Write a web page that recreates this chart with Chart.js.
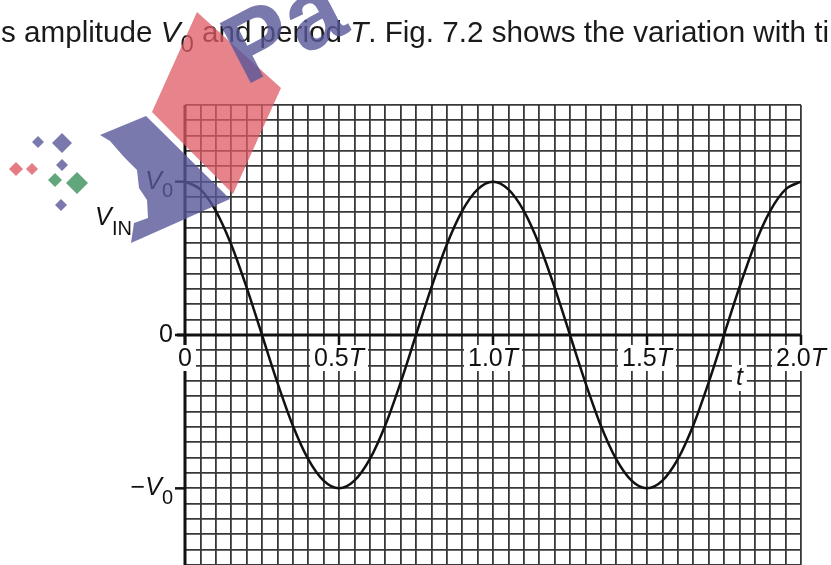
<!DOCTYPE html>
<html>
<head>
<meta charset="utf-8">
<script src="https://cdn.jsdelivr.net/npm/chart.js@4"></script>
<style>
  html, body { margin: 0; padding: 0; background: #fff; }
  #wrap { width: 831px; height: 565px; }
</style>
</head>
<body>
<div id="wrap"><canvas id="vinChart" width="831" height="565"></canvas></div>
<script>
// time in periods, one point per grid column
const timeT = [
  0, 0.05, 0.1, 0.15, 0.2, 0.25, 0.3, 0.35, 0.4, 0.45,
  0.5, 0.55, 0.6, 0.65, 0.7, 0.75, 0.8, 0.85, 0.9, 0.95,
  1.0, 1.05, 1.1, 1.15, 1.2, 1.25, 1.3, 1.35, 1.4, 1.45,
  1.5, 1.55, 1.6, 1.65, 1.7, 1.75, 1.8, 1.85, 1.9, 1.95, 2.0
];
// V_IN in units of V0
const vin = [
  1, 0.95, 0.81, 0.59, 0.31, 0, -0.31, -0.59, -0.81, -0.95,
  -1, -0.95, -0.81, -0.59, -0.31, 0, 0.31, 0.59, 0.81, 0.95,
  1, 0.95, 0.81, 0.59, 0.31, 0, -0.31, -0.59, -0.81, -0.95,
  -1, -0.95, -0.81, -0.59, -0.31, 0, 0.31, 0.59, 0.81, 0.95, 1
];
const xTicks = [0, 0.5, 1.0, 1.5, 2.0];
const xTickLabels = [
  [{ t: "0" }],
  [{ t: "0.5" }, { t: "T", i: true }],
  [{ t: "1.0" }, { t: "T", i: true }],
  [{ t: "1.5" }, { t: "T", i: true }],
  [{ t: "2.0" }, { t: "T", i: true }]
];
const yTicks = [1, 0, -1];
const yTickLabels = [
  [{ t: "V", i: true }, { t: "0", s: true }],
  [{ t: "0" }],
  [{ t: "\u2212" }, { t: "V", i: true }, { t: "0", s: true }]
];
const header = [
  { t: "s amplitude " }, { t: "V", i: true }, { t: "0", s: true },
  { t: " and period " }, { t: "T", i: true },
  { t: ". Fig. 7.2 shows the variation with ti" }
];

const FONT = "'Liberation Sans', Arial, sans-serif";

function partFont(p, size) {
  const sz = p.s ? Math.round(size * 0.8) : size;
  return (p.i ? "italic " : "") + sz + "px " + FONT;
}
function richWidth(ctx, parts, size) {
  let w = 0;
  for (const p of parts) { ctx.font = partFont(p, size); w += ctx.measureText(p.t).width; }
  return w;
}
// draw mixed italic / subscript text, x is the left edge, y the middle line
function drawRich(ctx, parts, x, y, size, subDrop) {
  ctx.textBaseline = "middle";
  ctx.textAlign = "left";
  for (const p of parts) {
    ctx.font = partFont(p, size);
    ctx.fillText(p.t, x, p.s ? y + subDrop : y);
    x += ctx.measureText(p.t).width;
  }
}

const axesAndLabels = {
  id: "axesAndLabels",
  afterDatasetsDraw(chart) {
    const { ctx, chartArea, scales: { x, y } } = chart;
    const x0 = x.getPixelForValue(0);
    const y0 = y.getPixelForValue(0);
    ctx.save();
    ctx.strokeStyle = "#111";
    ctx.lineCap = "butt";
    // vertical axis
    ctx.lineWidth = 3;
    ctx.beginPath();
    ctx.moveTo(x0, chartArea.top);
    ctx.lineTo(x0, chartArea.bottom);
    ctx.stroke();
    // time axis through zero
    ctx.beginPath();
    ctx.moveTo(x0 - 8, y0);
    ctx.lineTo(chartArea.right, y0);
    ctx.stroke();
    // y tick marks
    ctx.lineWidth = 2.5;
    for (const v of yTicks) {
      const py = y.getPixelForValue(v);
      ctx.beginPath();
      ctx.moveTo(x0 - 10, py);
      ctx.lineTo(x0, py);
      ctx.stroke();
    }
    // x tick marks below the axis
    for (const v of xTicks) {
      const px = x.getPixelForValue(v);
      ctx.beginPath();
      ctx.moveTo(px, y0);
      ctx.lineTo(px, y0 + 10);
      ctx.stroke();
    }

    ctx.fillStyle = "#111";
    const size = 25;
    // x labels on white boxes
    xTicks.forEach((v, k) => {
      const parts = xTickLabels[k];
      const w = richWidth(ctx, parts, size);
      const cx = x.getPixelForValue(v);
      const cy = y0 + 23;
      ctx.fillStyle = "#fff";
      ctx.fillRect(cx - w / 2 - 4, cy - 13, w + 8, 26);
      ctx.fillStyle = "#111";
      drawRich(ctx, parts, cx - w / 2, cy + 1, size, 0);
    });
    // axis name t
    const tx = x.getPixelForValue(1.8);
    ctx.font = "italic " + size + "px " + FONT;
    const tw = ctx.measureText("t").width;
    ctx.fillStyle = "#fff";
    ctx.fillRect(tx - tw / 2 - 4, y0 + 30, tw + 8, 26);
    ctx.fillStyle = "#111";
    drawRich(ctx, [{ t: "t", i: true }], tx - tw / 2, y0 + 43, size, 0);

    // y labels to the left of the axis
    yTicks.forEach((v, k) => {
      const parts = yTickLabels[k];
      const w = richWidth(ctx, parts, size);
      const py = y.getPixelForValue(v);
      drawRich(ctx, parts, x0 - 12 - w, py, size, 10);
    });
    // quantity name V_IN
    drawRich(ctx, [{ t: "V", i: true }], 95, 218, size, 0);
    ctx.font = "20px " + FONT;
    ctx.textBaseline = "middle";
    ctx.fillText("IN", 112, 229);
    ctx.restore();
  }
};

const headerAndMark = {
  id: "headerAndMark",
  afterDraw(chart) {
    const ctx = chart.ctx;
    ctx.save();
    // sentence above the figure, sized to run to the right edge
    const hs = 24 * 828 / richWidth(ctx, header, 24);
    ctx.fillStyle = "#1a1a1a";
    drawRich(ctx, header, 1, 34, hs, 11);

    // logo watermark
    ctx.fillStyle = "rgba(222,90,100,0.75)";
    ctx.beginPath();
    ctx.moveTo(197, 12);
    ctx.lineTo(281, 88);
    ctx.lineTo(233, 194);
    ctx.lineTo(152, 112);
    ctx.closePath();
    ctx.fill();

    ctx.fillStyle = "rgba(88,88,152,0.8)";
    ctx.beginPath();
    ctx.moveTo(100, 135);
    ctx.lineTo(146, 116);
    ctx.lineTo(230, 199);
    ctx.lineTo(131, 243);
    ctx.lineTo(134, 223);
    ctx.lineTo(148, 218);
    ctx.lineTo(147, 200);
    ctx.lineTo(139, 188);
    ctx.lineTo(137, 170);
    ctx.lineTo(124, 157);
    ctx.lineTo(110, 141);
    ctx.closePath();
    ctx.fill();

    ctx.translate(245, 86);
    ctx.rotate(-0.48);
    ctx.font = "bold 98px " + FONT;
    ctx.textBaseline = "alphabetic";
    ctx.fillText("Pa", 0, 0);
    ctx.setTransform(1, 0, 0, 1, 0, 0);

    const diamonds = [
      [38, 142, 6, "rgba(88,88,152,0.8)"],
      [62, 143, 10, "rgba(88,88,152,0.8)"],
      [62, 165, 6, "rgba(88,88,152,0.8)"],
      [16, 169, 7, "rgba(222,90,100,0.8)"],
      [32, 169, 6, "rgba(222,90,100,0.8)"],
      [55, 180, 7, "rgba(70,150,100,0.85)"],
      [77, 183, 11, "rgba(70,150,100,0.85)"],
      [61, 205, 6, "rgba(88,88,152,0.8)"]
    ];
    for (const [cx, cy, r, c] of diamonds) {
      ctx.fillStyle = c;
      ctx.beginPath();
      ctx.moveTo(cx, cy - r);
      ctx.lineTo(cx + r, cy);
      ctx.lineTo(cx, cy + r);
      ctx.lineTo(cx - r, cy);
      ctx.closePath();
      ctx.fill();
    }
    ctx.restore();
  }
};

new Chart(document.getElementById("vinChart"), {
  type: "scatter",
  data: {
    datasets: [{
      label: "V_IN",
      data: timeT.map((t, k) => ({ x: t, y: vin[k] })),
      showLine: true,
      borderColor: "#111",
      borderWidth: 2.5,
      pointRadius: 0,
      cubicInterpolationMode: "monotone"
    }]
  },
  options: {
    responsive: false,
    animation: false,
    layout: { padding: { top: 105, right: 30, bottom: 0, left: 0 } },
    plugins: { legend: { display: false }, tooltip: { enabled: false } },
    scales: {
      x: {
        type: "linear",
        min: 0,
        max: 2,
        ticks: { display: false, stepSize: 0.05, autoSkip: false, maxTicksLimit: 100 },
        grid: { color: "#383838", lineWidth: 1.8, drawTicks: false },
        border: { display: false }
      },
      y: {
        type: "linear",
        min: -1.5,
        max: 1.5,
        afterFit: (s) => { s.width = 185; },
        ticks: { display: false, stepSize: 0.1, autoSkip: false, maxTicksLimit: 100 },
        grid: { color: "#383838", lineWidth: 1.8, drawTicks: false },
        border: { display: false }
      }
    }
  },
  plugins: [axesAndLabels, headerAndMark]
});
</script>
</body>
</html>
